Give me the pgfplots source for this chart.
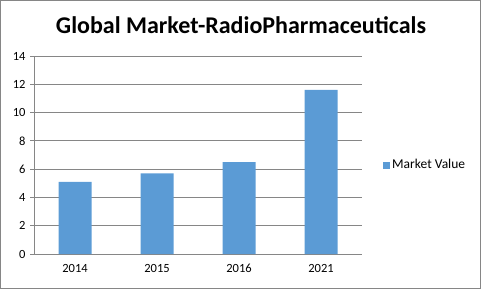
\documentclass[border=0pt]{standalone}
\usepackage{pgfplots}
\pgfplotsset{compat=1.18}
\usepackage{fontspec}
\setmainfont{Carlito}
\definecolor{barblue}{HTML}{5B9BD5}
\definecolor{gridgray}{HTML}{868686}
\begin{document}
\begin{tikzpicture}[x=1pt,y=1pt]
\useasboundingbox (0,0) rectangle (481,289);
\draw[gridgray,line width=1pt] (0.5,0.5) rectangle (480.5,288.5);
\node[font=\fontsize{24}{28}\selectfont\bfseries] at (241,264) {Global Market-RadioPharmaceuticals};
\begin{axis}[
  at={(34pt,35pt)}, anchor=south west,
  scale only axis, width=328pt, height=198pt,
  xmin=-0.5, xmax=3.5, ymin=0, ymax=14,
  ytick={0,2,...,14},
  xtick={0,1,2,3},
  xticklabels={2014,2015,2016,2021},
  x tick style={draw=none},
  extra x ticks={-0.5,0.5,1.5,2.5,3.5},
  extra x tick labels={},
  extra x tick style={grid=none, major tick length=4pt, tick style={gridgray, line width=0.8pt, draw=gridgray}},
  ymajorgrids, grid style={gridgray, line width=0.8pt},
  axis x line*=bottom, axis y line*=left,
  axis line style={gridgray, line width=0.8pt, -},
  y tick style={gridgray, line width=0.8pt},
  major tick length=4pt,
  tick align=outside,
  /pgf/number format/assume math mode=true,
  ticklabel style={font=\fontsize{12.5}{14}\selectfont, text=black},
  yticklabel style={xshift=-1pt},
  xticklabel style={yshift=-3pt},
  legend style={at={(1,0.5)}, anchor=west, xshift=18pt, yshift=-10pt, draw=none, fill=none, font=\fontsize{13.5}{16}\selectfont},
  legend image code/.code={\fill[barblue] (0pt,-3.5pt) rectangle (7pt,3.5pt);},
]
\addplot[ybar, bar width=33pt, fill=barblue, draw=none] coordinates {(0,5.1) (1,5.7) (2,6.5) (3,11.6)};
\addlegendentry{Market Value}
\end{axis}
\end{tikzpicture}
\end{document}
